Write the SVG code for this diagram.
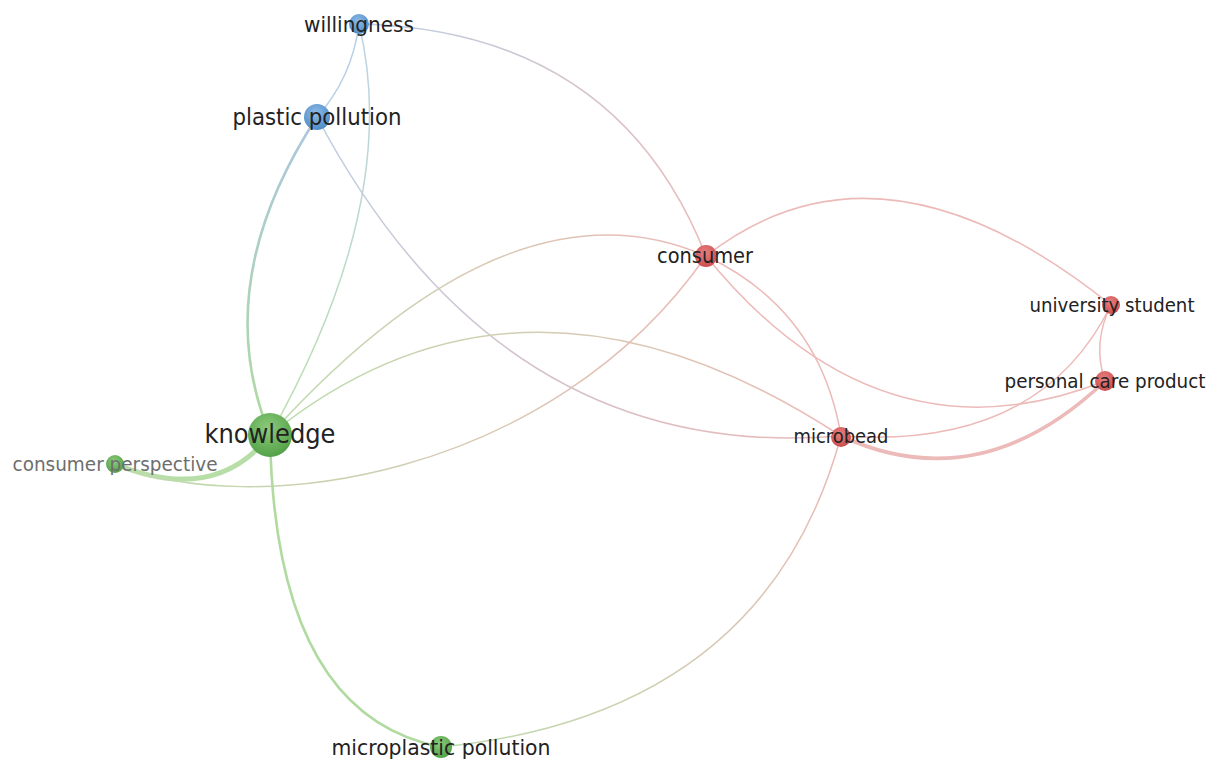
<svg xmlns="http://www.w3.org/2000/svg" width="1212" height="762" viewBox="0 0 1212 762">
<defs>
<radialGradient id="gB" cx="45%" cy="35%" r="65%"><stop offset="0" stop-color="#8dbbe6"/><stop offset="1" stop-color="#4f8cc8"/></radialGradient>
<radialGradient id="gG" cx="45%" cy="35%" r="65%"><stop offset="0" stop-color="#8ccb7c"/><stop offset="1" stop-color="#54a148"/></radialGradient>
<radialGradient id="gR" cx="45%" cy="35%" r="65%"><stop offset="0" stop-color="#e88080"/><stop offset="1" stop-color="#cc4d4d"/></radialGradient>
<linearGradient id="lWC" gradientUnits="userSpaceOnUse" x1="359" y1="24" x2="706" y2="256"><stop offset="0" stop-color="#bccfe3"/><stop offset="1" stop-color="#ecbab8"/></linearGradient>
<linearGradient id="lPK" gradientUnits="userSpaceOnUse" x1="317" y1="117" x2="270" y2="435"><stop offset="0" stop-color="#acc6e1"/><stop offset="1" stop-color="#addb9e"/></linearGradient>
<linearGradient id="lWK" gradientUnits="userSpaceOnUse" x1="359" y1="24" x2="270" y2="435"><stop offset="0" stop-color="#bdd3e8"/><stop offset="1" stop-color="#badfad"/></linearGradient>
<linearGradient id="lPM" gradientUnits="userSpaceOnUse" x1="317" y1="117" x2="841" y2="436"><stop offset="0" stop-color="#bccce2"/><stop offset="1" stop-color="#eab9b7"/></linearGradient>
<linearGradient id="lKC" gradientUnits="userSpaceOnUse" x1="270" y1="435" x2="706" y2="256"><stop offset="0" stop-color="#bddcae"/><stop offset="1" stop-color="#ecbab7"/></linearGradient>
<linearGradient id="lKM" gradientUnits="userSpaceOnUse" x1="270" y1="435" x2="841" y2="436"><stop offset="0" stop-color="#bddcae"/><stop offset="1" stop-color="#ecbab7"/></linearGradient>
<linearGradient id="lPC" gradientUnits="userSpaceOnUse" x1="115" y1="464" x2="706" y2="256"><stop offset="0" stop-color="#bddcae"/><stop offset="1" stop-color="#ecbab7"/></linearGradient>
<linearGradient id="lMM" gradientUnits="userSpaceOnUse" x1="441" y1="747" x2="841" y2="436"><stop offset="0" stop-color="#bddcae"/><stop offset="1" stop-color="#ecbab7"/></linearGradient>
</defs>
<style>
.e{fill:none;stroke-width:1.5;stroke-linecap:round}
.r{stroke:#ecbab8}
.g{stroke:#b0da9f}
.b{stroke:#b8cee5}
.lbl{font-family:"DejaVu Sans Condensed","DejaVu Sans",sans-serif;font-stretch:condensed;fill:#222;text-anchor:middle}
.grey{fill:#6e6e6e}
</style>
<rect width="1212" height="762" fill="#ffffff"/>
<g id="edges">
<path class="e b" d="M359,24 Q352,78 317,117"/>
<path class="e" stroke="url(#lWK)" d="M359,24 Q402,200 270,435"/>
<path class="e" stroke="url(#lWC)" d="M359,24 Q617,30 706,256"/>
<path class="e" stroke="url(#lPK)" style="stroke-width:2.6" d="M317,117 Q208,284 270,435"/>
<path class="e" stroke="url(#lPM)" d="M317,117 Q501,464 841,436"/>
<path class="e" stroke="url(#lKC)" d="M270,435 Q510,170 706,256"/>
<path class="e" stroke="url(#lKM)" d="M270,435 Q524,229 841,436"/>
<path class="e g" style="stroke-width:5;stroke-opacity:0.9" d="M270,435 Q215,505 115,464"/>
<path class="e" stroke="url(#lPC)" d="M115,464 C250,520 550,480 706,256"/>
<path class="e g" style="stroke-width:2.6" d="M270,435 Q275,715 441,747"/>
<path class="e" stroke="url(#lMM)" d="M441,747 Q765,715 841,436"/>
<path class="e r" d="M706,256 Q880,120 1111,305"/>
<path class="e r" d="M706,256 Q880,470 1105,381"/>
<path class="e r" d="M706,256 Q820,310 841,436"/>
<path class="e r" d="M841,436 Q1040,450 1111,305"/>
<path class="e r" style="stroke-width:3.6" d="M841,436 Q980,500 1105,381"/>
<path class="e r" d="M1111,305 Q1092,343 1105,381"/>
</g>
<g id="node-willingness"><circle cx="359" cy="24" r="10" fill="url(#gB)"/><text class="lbl" x="359" y="32" font-size="22" textLength="110" lengthAdjust="spacingAndGlyphs">willingness</text></g>
<g id="node-plastic-pollution"><circle cx="317" cy="117" r="13" fill="url(#gB)"/><text class="lbl" x="317" y="125" font-size="23" textLength="169" lengthAdjust="spacingAndGlyphs">plastic pollution</text></g>
<g id="node-knowledge"><circle cx="270" cy="435" r="22" fill="url(#gG)"/><text class="lbl" x="270" y="443" font-size="27" textLength="131" lengthAdjust="spacingAndGlyphs">knowledge</text></g>
<g id="node-consumer-perspective"><circle cx="115" cy="464" r="9" fill="url(#gG)"/><text class="lbl grey" x="115" y="471" font-size="20" textLength="205" lengthAdjust="spacingAndGlyphs">consumer perspective</text></g>
<g id="node-microplastic-pollution"><circle cx="441" cy="747" r="11" fill="url(#gG)"/><text class="lbl" x="441" y="755" font-size="22" textLength="219" lengthAdjust="spacingAndGlyphs">microplastic pollution</text></g>
<g id="node-consumer"><circle cx="706" cy="256" r="11" fill="url(#gR)"/><text class="lbl" x="705" y="263" font-size="21" textLength="96" lengthAdjust="spacingAndGlyphs">consumer</text></g>
<g id="node-university-student"><circle cx="1111" cy="305" r="9" fill="url(#gR)"/><text class="lbl" x="1112" y="312" font-size="20" textLength="165" lengthAdjust="spacingAndGlyphs">university student</text></g>
<g id="node-personal-care-product"><circle cx="1105" cy="381" r="10" fill="url(#gR)"/><text class="lbl" x="1105" y="388" font-size="20" textLength="201" lengthAdjust="spacingAndGlyphs">personal care product</text></g>
<g id="node-microbead"><circle cx="841" cy="437" r="10" fill="url(#gR)"/><text class="lbl" x="841" y="443" font-size="20" textLength="95" lengthAdjust="spacingAndGlyphs">microbead</text></g>
</svg>
